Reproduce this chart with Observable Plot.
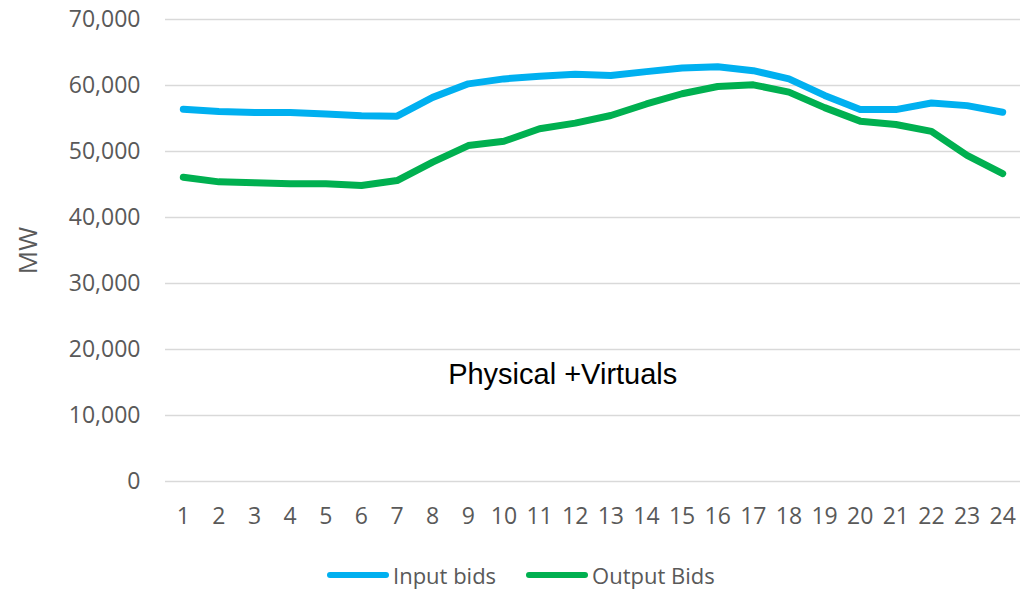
<!DOCTYPE html>
<html>
<head>
<meta charset="utf-8">
<script src="https://cdn.jsdelivr.net/npm/d3@7"></script>
<script src="https://cdn.jsdelivr.net/npm/@observablehq/plot@0.6"></script>
<style>
  html, body { margin: 0; padding: 0; background: #fff; }
  #wrap { position: relative; width: 1026px; height: 590px; }
  #legend { position: absolute; top: 560px; left: 327px; display: flex; align-items: center;
    font-family: "Open Sans", sans-serif; font-size: 22px; color: #595959; }
  .item { display: flex; align-items: center; margin-right: 30px; }
  .swatch { width: 62px; height: 6px; border-radius: 3px; margin-right: 4px; }
  g[aria-label="y-axis label"] text { font-size: 26px; }
</style>
</head>
<body>
<div id="wrap">
  <div id="chart"></div>
  <div id="legend"></div>
</div>
<script>
const hours = [1, 2, 3, 4, 5, 6, 7, 8, 9, 10, 11, 12, 13, 14, 15, 16, 17, 18, 19, 20, 21, 22, 23, 24];
const inputBids = [56400, 56050, 55900, 55900, 55700, 55400, 55350, 58200, 60250, 61000, 61400, 61700,
                   61500, 62100, 62650, 62850, 62250, 61000, 58500, 56350, 56350, 57350, 56950, 55950];
const outputBids = [46100, 45400, 45250, 45100, 45100, 44850, 45600, 48400, 50900, 51550, 53450, 54300,
                    55450, 57200, 58750, 59850, 60100, 59000, 56650, 54600, 54100, 53050, 49400, 46650];
const seriesNames = ["Input bids", "Output Bids"];
const seriesColors = ["#00b0f0", "#00b050"];
const yTicks = [0, 10000, 20000, 30000, 40000, 50000, 60000, 70000];
const annotationText = ["Physical +Virtuals"];
const annotationX = [11.65];
const annotationY = [16200];

const rows = [];
hours.forEach((h, i) => {
  rows.push({hour: h, value: inputBids[i], series: seriesNames[0]});
  rows.push({hour: h, value: outputBids[i], series: seriesNames[1]});
});
const annot = annotationText.map((t, i) => ({text: t, x: annotationX[i], y: annotationY[i]}));

const chart = Plot.plot({
  width: 1026,
  height: 545,
  marginLeft: 165,
  marginRight: 6,
  marginTop: 19,
  marginBottom: 64,
  style: {fontFamily: "'Open Sans', sans-serif", fontSize: "23px", color: "#595959", background: "#fff"},
  x: {domain: [0.5, 24.5], ticks: hours, tickSize: 0, tickPadding: 26, tickFormat: d => String(d), label: null},
  y: {domain: [0, 70000], ticks: yTicks, tickSize: 0, tickPadding: 25, tickFormat: d3.format(","),
      label: "MW", labelAnchor: "center", labelArrow: "none", labelOffset: 147},
  color: {domain: seriesNames, range: seriesColors},
  marks: [
    Plot.gridY(yTicks, {stroke: "#d9d9d9", strokeOpacity: 1, strokeWidth: 1.5}),
    Plot.lineY(rows, {x: "hour", y: "value", stroke: "series", strokeWidth: 7, strokeLinejoin: "round", strokeLinecap: "round"}),
    Plot.text(annot, {x: "x", y: "y", text: "text", fill: "#000", fontSize: 29, fontFamily: "'Liberation Sans', Arial, sans-serif"})
  ]
});
document.getElementById("chart").appendChild(chart);

const legend = document.getElementById("legend");
seriesNames.forEach((name, i) => {
  const item = document.createElement("div");
  item.className = "item";
  const sw = document.createElement("div");
  sw.className = "swatch";
  sw.style.background = seriesColors[i];
  const label = document.createElement("span");
  label.textContent = name;
  item.appendChild(sw);
  item.appendChild(label);
  legend.appendChild(item);
});
</script>
</body>
</html>
